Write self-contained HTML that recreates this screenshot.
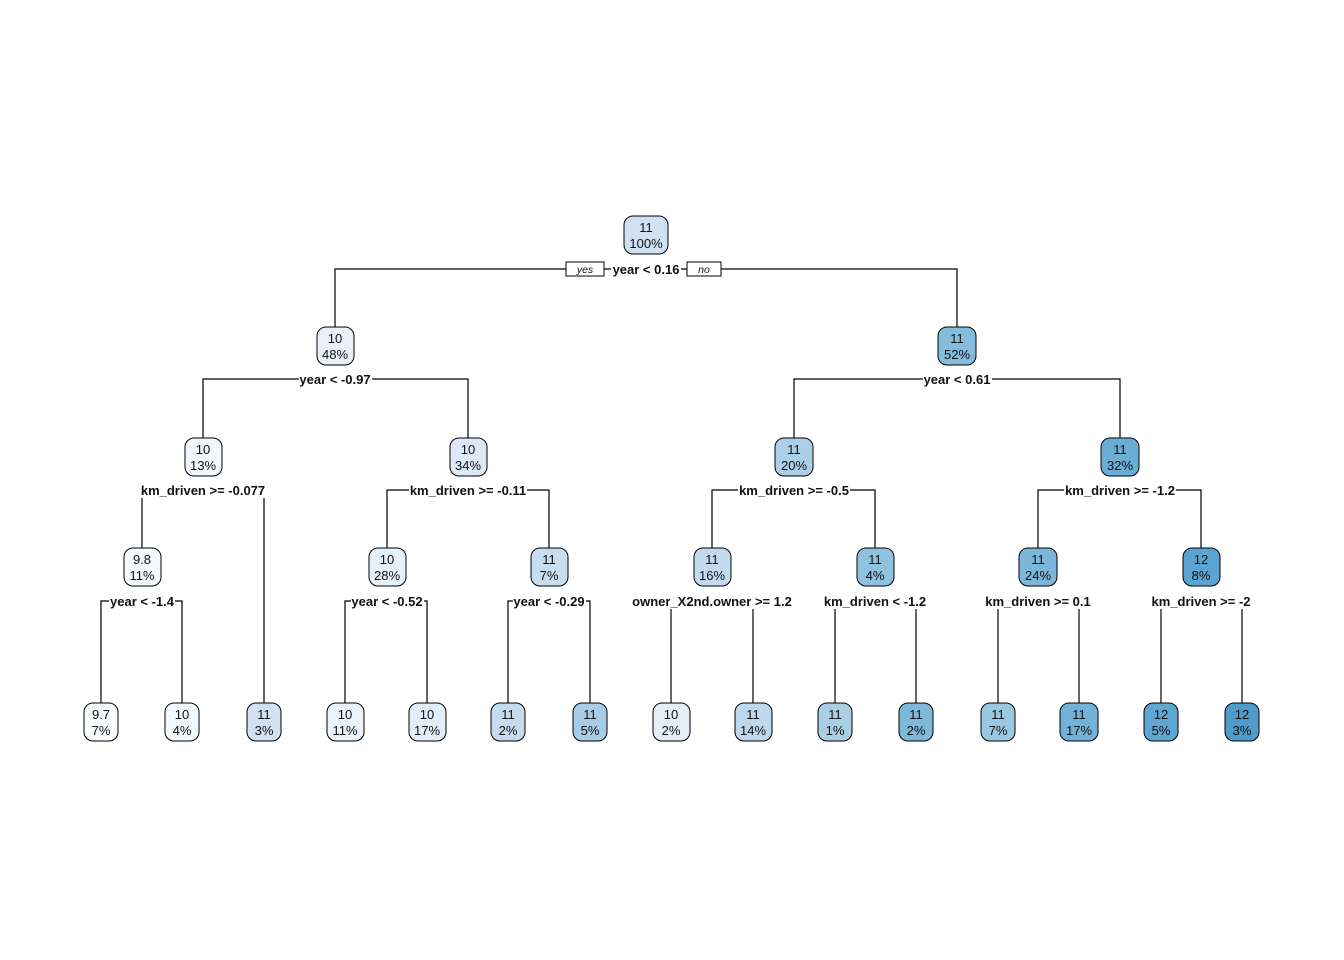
<!DOCTYPE html>
<html><head><meta charset="utf-8"><style>
html,body{margin:0;padding:0;background:#fff;}
svg{display:block;}
.n{font-family:"Liberation Sans",Arial,sans-serif;font-size:13px;fill:#111;text-anchor:middle;}
.s{font-family:"Liberation Sans",Arial,sans-serif;font-size:13px;font-weight:bold;fill:#111;text-anchor:middle;}
.yn{font-family:"Liberation Sans",Arial,sans-serif;font-size:10.5px;font-style:italic;fill:#111;text-anchor:middle;}
</style></head><body>
<svg width="1344" height="960" viewBox="0 0 1344 960" xmlns="http://www.w3.org/2000/svg">
<g stroke="#000" stroke-width="1.2" fill="none">
<polyline points="335,328 335,269 957,269 957,328"/>
<polyline points="203,439 203,379 468,379 468,439"/>
<polyline points="794,439 794,379 1120,379 1120,439"/>
<polyline points="142,549 142,490 264,490 264,704"/>
<polyline points="387,549 387,490 549,490 549,549"/>
<polyline points="712,549 712,490 875,490 875,549"/>
<polyline points="1038,549 1038,490 1201,490 1201,549"/>
<polyline points="101,704 101,601 182,601 182,704"/>
<polyline points="345,704 345,601 427,601 427,704"/>
<polyline points="508,704 508,601 590,601 590,704"/>
<polyline points="671,704 671,601 753,601 753,704"/>
<polyline points="835,704 835,601 916,601 916,704"/>
<polyline points="998,704 998,601 1079,601 1079,704"/>
<polyline points="1161,704 1161,601 1242,601 1242,704"/>
</g>
<g fill="#fff">
<rect x="611" y="261" width="70" height="16"/>
<rect x="299" y="371" width="73" height="16"/>
<rect x="923" y="371" width="69" height="16"/>
<rect x="139" y="482" width="128" height="16"/>
<rect x="409" y="482" width="118" height="16"/>
<rect x="738" y="482" width="112" height="16"/>
<rect x="1064" y="482" width="112" height="16"/>
<rect x="109" y="593" width="66" height="16"/>
<rect x="351" y="593" width="73" height="16"/>
<rect x="513" y="593" width="73" height="16"/>
<rect x="631" y="593" width="162" height="16"/>
<rect x="823" y="593" width="104" height="16"/>
<rect x="984" y="593" width="108" height="16"/>
<rect x="1150" y="593" width="102" height="16"/>
</g>
<text class="s" x="646" y="274">year &lt; 0.16</text>
<text class="s" x="335" y="384">year &lt; -0.97</text>
<text class="s" x="957" y="384">year &lt; 0.61</text>
<text class="s" x="203" y="495">km_driven &gt;= -0.077</text>
<text class="s" x="468" y="495">km_driven &gt;= -0.11</text>
<text class="s" x="794" y="495">km_driven &gt;= -0.5</text>
<text class="s" x="1120" y="495">km_driven &gt;= -1.2</text>
<text class="s" x="142" y="606">year &lt; -1.4</text>
<text class="s" x="387" y="606">year &lt; -0.52</text>
<text class="s" x="549" y="606">year &lt; -0.29</text>
<text class="s" x="712" y="606">owner_X2nd.owner &gt;= 1.2</text>
<text class="s" x="875" y="606">km_driven &lt; -1.2</text>
<text class="s" x="1038" y="606">km_driven &gt;= 0.1</text>
<text class="s" x="1201" y="606">km_driven &gt;= -2</text>
<rect x="566" y="262" width="38" height="14" fill="#fff" stroke="#000" stroke-width="1"/>
<text class="yn" x="585" y="273">yes</text>
<rect x="687" y="262" width="34" height="14" fill="#fff" stroke="#000" stroke-width="1"/>
<text class="yn" x="704" y="273">no</text>
<g stroke="#000" stroke-width="1">
<rect x="624" y="216" width="44" height="38" rx="9" fill="#d0e1f2"/>
<rect x="317" y="327" width="37" height="38" rx="9" fill="#e8f1fa"/>
<rect x="938" y="327" width="38" height="38" rx="9" fill="#85bcdc"/>
<rect x="185" y="438" width="37" height="38" rx="9" fill="#f2f7fd"/>
<rect x="450" y="438" width="37" height="38" rx="9" fill="#dde9f6"/>
<rect x="775" y="438" width="38" height="38" rx="9" fill="#abcfe6"/>
<rect x="1101" y="438" width="38" height="38" rx="9" fill="#6aaed6"/>
<rect x="124" y="548" width="37" height="38" rx="9" fill="#f6faff"/>
<rect x="369" y="548" width="37" height="38" rx="9" fill="#e6f0f9"/>
<rect x="531" y="548" width="37" height="38" rx="9" fill="#c9ddf0"/>
<rect x="694" y="548" width="37" height="38" rx="9" fill="#c3daee"/>
<rect x="857" y="548" width="37" height="38" rx="9" fill="#8fc2de"/>
<rect x="1019" y="548" width="38" height="38" rx="9" fill="#7cb7da"/>
<rect x="1183" y="548" width="37" height="38" rx="9" fill="#5ba3d0"/>
<rect x="84" y="703" width="34" height="38" rx="9" fill="#f7fbff"/>
<rect x="165" y="703" width="34" height="38" rx="9" fill="#f3f8fe"/>
<rect x="247" y="703" width="34" height="38" rx="9" fill="#d0e1f2"/>
<rect x="327" y="703" width="37" height="38" rx="9" fill="#eaf2fb"/>
<rect x="409" y="703" width="37" height="38" rx="9" fill="#e1edf8"/>
<rect x="491" y="703" width="34" height="38" rx="9" fill="#c6dbef"/>
<rect x="573" y="703" width="34" height="38" rx="9" fill="#a6cde5"/>
<rect x="653" y="703" width="37" height="38" rx="9" fill="#e3eef9"/>
<rect x="735" y="703" width="37" height="38" rx="9" fill="#bdd7ec"/>
<rect x="818" y="703" width="34" height="38" rx="9" fill="#a9cfe5"/>
<rect x="899" y="703" width="34" height="38" rx="9" fill="#7fb9da"/>
<rect x="981" y="703" width="34" height="38" rx="9" fill="#9ac8e0"/>
<rect x="1060" y="703" width="38" height="38" rx="9" fill="#73b2d8"/>
<rect x="1144" y="703" width="34" height="38" rx="9" fill="#5fa6d1"/>
<rect x="1225" y="703" width="34" height="38" rx="9" fill="#4f9bcb"/>
</g>
<g>
<text class="n" x="646" y="232">11</text><text class="n" x="646" y="248">100%</text>
<text class="n" x="335" y="343">10</text><text class="n" x="335" y="359">48%</text>
<text class="n" x="957" y="343">11</text><text class="n" x="957" y="359">52%</text>
<text class="n" x="203" y="454">10</text><text class="n" x="203" y="470">13%</text>
<text class="n" x="468" y="454">10</text><text class="n" x="468" y="470">34%</text>
<text class="n" x="794" y="454">11</text><text class="n" x="794" y="470">20%</text>
<text class="n" x="1120" y="454">11</text><text class="n" x="1120" y="470">32%</text>
<text class="n" x="142" y="564">9.8</text><text class="n" x="142" y="580">11%</text>
<text class="n" x="387" y="564">10</text><text class="n" x="387" y="580">28%</text>
<text class="n" x="549" y="564">11</text><text class="n" x="549" y="580">7%</text>
<text class="n" x="712" y="564">11</text><text class="n" x="712" y="580">16%</text>
<text class="n" x="875" y="564">11</text><text class="n" x="875" y="580">4%</text>
<text class="n" x="1038" y="564">11</text><text class="n" x="1038" y="580">24%</text>
<text class="n" x="1201" y="564">12</text><text class="n" x="1201" y="580">8%</text>
<text class="n" x="101" y="719">9.7</text><text class="n" x="101" y="735">7%</text>
<text class="n" x="182" y="719">10</text><text class="n" x="182" y="735">4%</text>
<text class="n" x="264" y="719">11</text><text class="n" x="264" y="735">3%</text>
<text class="n" x="345" y="719">10</text><text class="n" x="345" y="735">11%</text>
<text class="n" x="427" y="719">10</text><text class="n" x="427" y="735">17%</text>
<text class="n" x="508" y="719">11</text><text class="n" x="508" y="735">2%</text>
<text class="n" x="590" y="719">11</text><text class="n" x="590" y="735">5%</text>
<text class="n" x="671" y="719">10</text><text class="n" x="671" y="735">2%</text>
<text class="n" x="753" y="719">11</text><text class="n" x="753" y="735">14%</text>
<text class="n" x="835" y="719">11</text><text class="n" x="835" y="735">1%</text>
<text class="n" x="916" y="719">11</text><text class="n" x="916" y="735">2%</text>
<text class="n" x="998" y="719">11</text><text class="n" x="998" y="735">7%</text>
<text class="n" x="1079" y="719">11</text><text class="n" x="1079" y="735">17%</text>
<text class="n" x="1161" y="719">12</text><text class="n" x="1161" y="735">5%</text>
<text class="n" x="1242" y="719">12</text><text class="n" x="1242" y="735">3%</text>
</g>
</svg>
</body></html>
